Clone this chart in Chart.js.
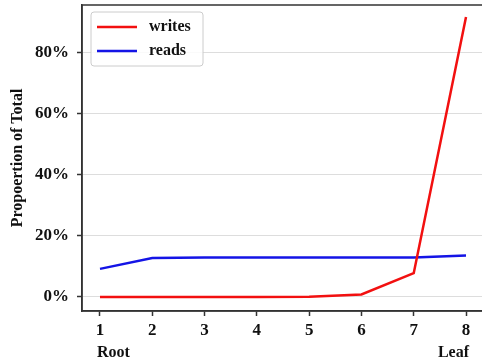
<!DOCTYPE html>
<html>
<head>
<meta charset="utf-8">
<script src="https://cdn.jsdelivr.net/npm/chart.js@4/dist/chart.umd.min.js"></script>
<style>
  html, body { margin: 0; padding: 0; background: #fff; overflow: hidden; }
  #wrap { width: 482px; height: 364px; overflow: hidden; }
  #box { width: 486px; height: 364px; }
</style>
</head>
<body>
<div id="wrap"><div id="box"><canvas id="chart"></canvas></div></div>
<script>
const levels = [1, 2, 3, 4, 5, 6, 7, 8];
const writes = [0, 0, 0, 0, 0.1, 0.8, 7.8, 91.8];
const reads = [9.2, 12.8, 12.9, 12.9, 12.9, 12.9, 12.9, 13.6];
const yTicks = [0, 20, 40, 60, 80];
const seriesNames = ["writes", "reads"];
const seriesColors = ["#f21010", "#1414e6"];

const font = "Liberation Serif, Times New Roman, serif";
const axisColor = "#333333";

// box around the plot + legend inside top-left corner
const framePlugin = {
    id: "frame",
    afterDraw(chart) {
        const { ctx, chartArea } = chart;
        ctx.save();
        ctx.strokeStyle = axisColor;
        ctx.lineWidth = 1.5;
        ctx.strokeRect(chartArea.left, chartArea.top, chartArea.right - chartArea.left, chartArea.bottom - chartArea.top);

        const x0 = chartArea.left + 9;
        const y0 = chartArea.top + 7;
        ctx.fillStyle = "rgba(255,255,255,0.85)";
        ctx.strokeStyle = "#cccccc";
        ctx.lineWidth = 1;
        ctx.beginPath();
        ctx.roundRect(x0, y0, 112, 54, 3);
        ctx.fill();
        ctx.stroke();

        ctx.font = "bold 16px " + font;
        ctx.textBaseline = "middle";
        chart.data.datasets.forEach((ds, i) => {
            const y = y0 + 15 + i * 24;
            ctx.strokeStyle = ds.borderColor;
            ctx.lineWidth = 2.5;
            ctx.beginPath();
            ctx.moveTo(x0 + 6, y);
            ctx.lineTo(x0 + 46, y);
            ctx.stroke();
            ctx.fillStyle = "#111";
            ctx.fillText(ds.label, x0 + 58, y);
        });
        ctx.restore();
    },
};

new Chart(document.getElementById("chart"), {
    type: "line",
    data: {
        datasets: [
            {
                label: seriesNames[0],
                data: levels.map((x, i) => ({ x, y: writes[i] })),
                borderColor: seriesColors[0],
                borderWidth: 2.5,
                pointRadius: 0,
                tension: 0,
            },
            {
                label: seriesNames[1],
                data: levels.map((x, i) => ({ x, y: reads[i] })),
                borderColor: seriesColors[1],
                borderWidth: 2.5,
                pointRadius: 0,
                tension: 0,
            },
        ],
    },
    options: {
        responsive: true,
        maintainAspectRatio: false,
        animation: false,
        layout: { padding: { top: 5, right: 2, left: 0, bottom: 0 } },
        plugins: {
            legend: { display: false },
            tooltip: { enabled: false },
        },
        scales: {
            x: {
                type: "linear",
                min: 0.656,
                max: 8.344,
                afterBuildTicks: (s) => { s.ticks = levels.map((v) => ({ value: v })); },
                afterFit: (s) => { s.height = 53; s.paddingLeft = 0; s.paddingRight = 0; },
                border: { display: true, color: axisColor, width: 1.5 },
                grid: { drawOnChartArea: false, tickLength: 5, tickColor: axisColor, tickWidth: 1.5 },
                ticks: {
                    color: "#111",
                    padding: 4,
                    font: { family: font, size: 17, weight: "bold" },
                },
                title: {
                    display: true,
                    text: "Root" + "\u00a0".repeat(77) + "Leaf",
                    color: "#111",
                    padding: { top: 2, bottom: 2 },
                    font: { family: font, size: 16, weight: "bold" },
                },
            },
            y: {
                min: -4.6,
                max: 95.7,
                afterBuildTicks: (s) => { s.ticks = yTicks.map((v) => ({ value: v })); },
                afterFit: (s) => { s.width = 82; s.paddingTop = 0; s.paddingBottom = 0; },
                border: { display: true, color: axisColor, width: 1.5 },
                grid: { color: "#dddddd", lineWidth: 1, tickLength: 5, tickColor: axisColor, tickWidth: 1.5 },
                ticks: {
                    color: "#111",
                    padding: 8,
                    font: { family: font, size: 17, weight: "bold" },
                    callback: (v) => v + "%",
                },
                title: {
                    display: true,
                    text: "Propoertion of Total",
                    color: "#111",
                    padding: { top: 8, bottom: 0 },
                    font: { family: font, size: 16, weight: "bold" },
                },
            },
        },
    },
    plugins: [framePlugin],
});
</script>
</body>
</html>
